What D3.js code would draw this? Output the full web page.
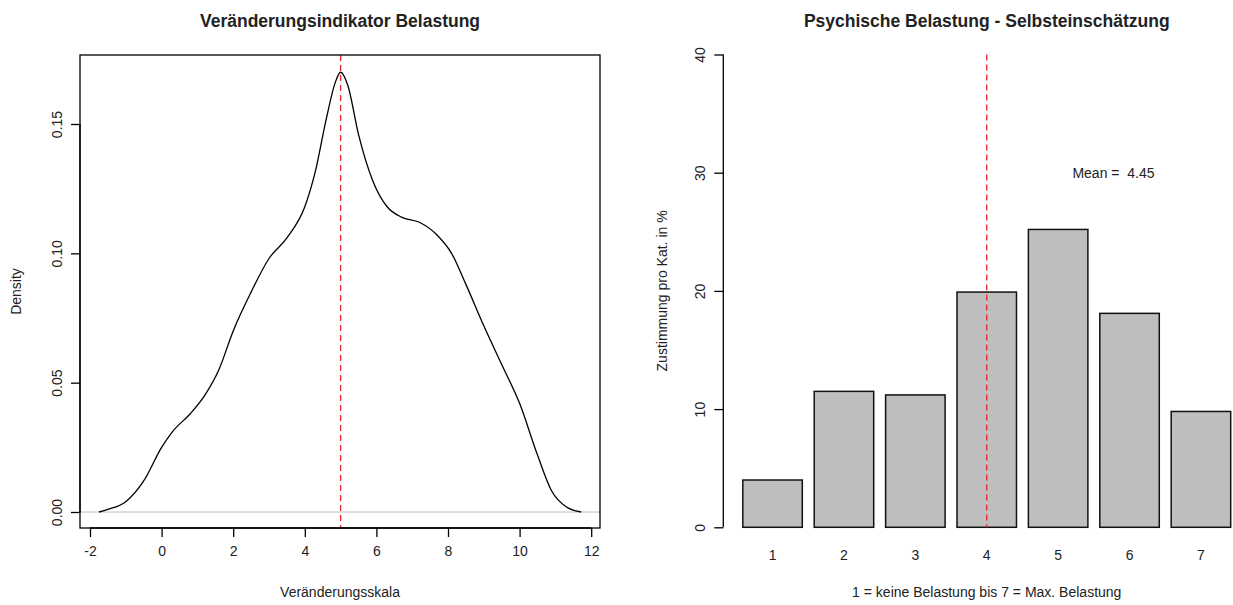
<!DOCTYPE html>
<html>
<head>
<meta charset="utf-8">
<script src="https://cdn.jsdelivr.net/npm/d3@7"></script>
<style>
  body { margin: 0; background: #fff; }
  text { font-family: "Liberation Sans", Arial, sans-serif; fill: #222; }
</style>
</head>
<body>
<div id="chart"></div>
<script>

// density curve
var densX = [-1.75, -1.5, -1.0, -0.5, 0.0, 0.3, 0.8, 1.2, 1.6, 2.0, 2.5, 3.0, 3.5, 4.0, 4.3, 4.6, 4.85, 5.0,
             5.2, 5.5, 5.9, 6.3, 6.7, 7.2, 7.7, 8.1, 8.5, 9.0, 9.5, 10.0, 10.5, 10.9, 11.3, 11.72];
var densY = [0.000, 0.001, 0.004, 0.012, 0.025, 0.031, 0.038, 0.045, 0.055, 0.070, 0.085, 0.098, 0.106, 0.118, 0.132, 0.152, 0.166, 0.170,
             0.165, 0.146, 0.128, 0.118, 0.114, 0.112, 0.107, 0.100, 0.088, 0.072, 0.057, 0.042, 0.022, 0.008, 0.002, 0.000];
var densXTicks = [-2, 0, 2, 4, 6, 8, 10, 12];
var densYTicks = [0, 0.05, 0.10, 0.15];
var densMarker = 5;

// bar panel
var categories = ["1", "2", "3", "4", "5", "6", "7"];
var percents = [4.0, 11.5, 11.2, 19.9, 25.2, 18.1, 9.8];
var barYTicks = [0, 10, 20, 30, 40];
var meanCategory = "4";
var meanLabel = "Mean =  4.45";

var labelSize = "14px";
var titleSize = "17.5px";

var svg = d3.select("#chart")
  .append("svg")
    .attr("width", 1233)
    .attr("height", 605);

//////////
// LEFT: DENSITY //
//////////

var box1 = {left: 80, right: 600, top: 55, bottom: 528};

var x1 = d3.scaleLinear().domain([-2, 12]).range([90, 591.2]);
var y1 = d3.scaleLinear().domain([0, 0.15]).range([512, 124]);

svg.append("text")
    .attr("x", (box1.left + box1.right) / 2)
    .attr("y", 27)
    .attr("text-anchor", "middle")
    .style("font-size", titleSize)
    .style("font-weight", "bold")
    .text("Veränderungsindikator Belastung");

// zero line
svg.append("line")
    .attr("x1", box1.left).attr("x2", box1.right)
    .attr("y1", y1(0)).attr("y2", y1(0))
    .style("stroke", "#bebebe")
    .style("stroke-width", 1);

var pts = densX.map(function(v, i) { return [v, densY[i]]; });
var line = d3.line()
    .x(function(d) { return x1(d[0]); })
    .y(function(d) { return y1(d[1]); })
    .curve(d3.curveMonotoneX);

svg.append("path")
    .datum(pts)
    .attr("d", line)
    .style("fill", "none")
    .style("stroke", "#000")
    .style("stroke-width", 1.3);

svg.append("line")
    .attr("x1", x1(densMarker)).attr("x2", x1(densMarker))
    .attr("y1", box1.top).attr("y2", box1.bottom)
    .style("stroke", "#e8202a")
    .style("stroke-width", 1.3)
    .style("stroke-dasharray", "6,4");

svg.append("rect")
    .attr("x", box1.left).attr("y", box1.top)
    .attr("width", box1.right - box1.left)
    .attr("height", box1.bottom - box1.top)
    .style("fill", "none")
    .style("stroke", "#000")
    .style("stroke-width", 1.3);

// x axis
var xAx1 = svg.append("g")
    .attr("transform", "translate(0," + box1.bottom + ")")
    .call(d3.axisBottom(x1).tickValues(densXTicks).tickSize(9).tickPadding(9)
      .tickFormat(function(d) { return d < 0 ? "-" + (-d) : d; }));
xAx1.selectAll("line, path").style("stroke", "#000").style("stroke-width", 1.3);
xAx1.select(".domain").attr("d", "M" + x1(-2) + ",0H" + x1(12));
xAx1.selectAll("text").style("font-size", labelSize).attr("fill", "#222").style("font-family", "Liberation Sans, Arial, sans-serif");

// y axis
var yAx1 = svg.append("g")
    .attr("transform", "translate(" + box1.left + ",0)")
    .call(d3.axisLeft(y1).tickValues(densYTicks).tickSize(9).tickFormat(d3.format(".2f")));
yAx1.selectAll("line, path").style("stroke", "#000").style("stroke-width", 1.3);
yAx1.select(".domain").attr("d", "M0," + y1(0) + "V" + y1(0.15));
yAx1.selectAll("text")
    .style("font-size", labelSize).attr("fill", "#222").style("font-family", "Liberation Sans, Arial, sans-serif")
    .attr("x", null).attr("dy", null)
    .attr("text-anchor", "middle")
    .attr("transform", "translate(-18,0) rotate(-90)");

svg.append("text")
    .attr("transform", "translate(21," + (box1.top + box1.bottom) / 2 + ") rotate(-90)")
    .attr("text-anchor", "middle")
    .style("font-size", labelSize)
    .text("Density");

svg.append("text")
    .attr("x", (box1.left + box1.right) / 2)
    .attr("y", 597)
    .attr("text-anchor", "middle")
    .style("font-size", labelSize)
    .text("Veränderungsskala");

//////////
// RIGHT: BARS //
//////////

// user coordinates like a base barplot: bar i spans [0.2 + 1.2i, 1.2 + 1.2i]
var x2 = d3.scaleLinear().domain([-0.128, 8.728]).range([723.3, 1250.2]);
var y2 = d3.scaleLinear().domain([0, 40]).range([527.3, 54.5]);
var barLeft = function(i) { return 0.2 + 1.2 * i; };
var barMid = function(c) { return barLeft(categories.indexOf(c)) + 0.5; };

svg.append("text")
    .attr("x", (x2.range()[0] + x2.range()[1]) / 2)
    .attr("y", 27)
    .attr("text-anchor", "middle")
    .style("font-size", titleSize)
    .style("font-weight", "bold")
    .text("Psychische Belastung - Selbsteinschätzung");

svg.selectAll("rect.bar")
  .data(percents)
  .enter()
  .append("rect")
    .attr("class", "bar")
    .attr("x", function(d, i) { return x2(barLeft(i)); })
    .attr("width", function(d, i) { return x2(barLeft(i) + 1) - x2(barLeft(i)); })
    .attr("y", function(d) { return y2(d); })
    .attr("height", function(d) { return y2(0) - y2(d); })
    .style("fill", "#bebebe")
    .style("stroke", "#111")
    .style("stroke-width", 1.5);

svg.selectAll("text.cat")
  .data(categories)
  .enter()
  .append("text")
    .attr("class", "cat")
    .attr("x", function(d) { return x2(barMid(d)); })
    .attr("y", 560)
    .attr("text-anchor", "middle")
    .style("font-size", labelSize)
    .text(function(d) { return d; });

svg.append("line")
    .attr("x1", x2(barMid(meanCategory))).attr("x2", x2(barMid(meanCategory)))
    .attr("y1", y2(40)).attr("y2", y2(0))
    .style("stroke", "#e8202a")
    .style("stroke-width", 1.3)
    .style("stroke-dasharray", "6,4");

svg.append("text")
    .attr("x", x2(6.43))
    .attr("y", y2(30) + 5)
    .attr("text-anchor", "middle")
    .style("font-size", labelSize)
    .style("white-space", "pre")
    .text(meanLabel);

var yAx2 = svg.append("g")
    .attr("transform", "translate(" + x2(-0.128) + ",0)")
    .call(d3.axisLeft(y2).tickValues(barYTicks).tickSize(9));
yAx2.selectAll("line, path").style("stroke", "#000").style("stroke-width", 1.3);
yAx2.select(".domain").attr("d", "M0," + y2(0) + "V" + y2(40));
yAx2.selectAll("text")
    .style("font-size", labelSize).attr("fill", "#222").style("font-family", "Liberation Sans, Arial, sans-serif")
    .attr("x", null).attr("dy", null)
    .attr("text-anchor", "middle")
    .attr("transform", "translate(-18,0) rotate(-90)");

svg.append("text")
    .attr("transform", "translate(667," + (y2(-1.6) + y2(41.6)) / 2 + ") rotate(-90)")
    .attr("text-anchor", "middle")
    .style("font-size", labelSize)
    .text("Zustimmung pro Kat. in %");

svg.append("text")
    .attr("x", (x2.range()[0] + x2.range()[1]) / 2)
    .attr("y", 597)
    .attr("text-anchor", "middle")
    .style("font-size", labelSize)
    .text("1 = keine Belastung bis 7 = Max. Belastung");

</script>
</body>
</html>
